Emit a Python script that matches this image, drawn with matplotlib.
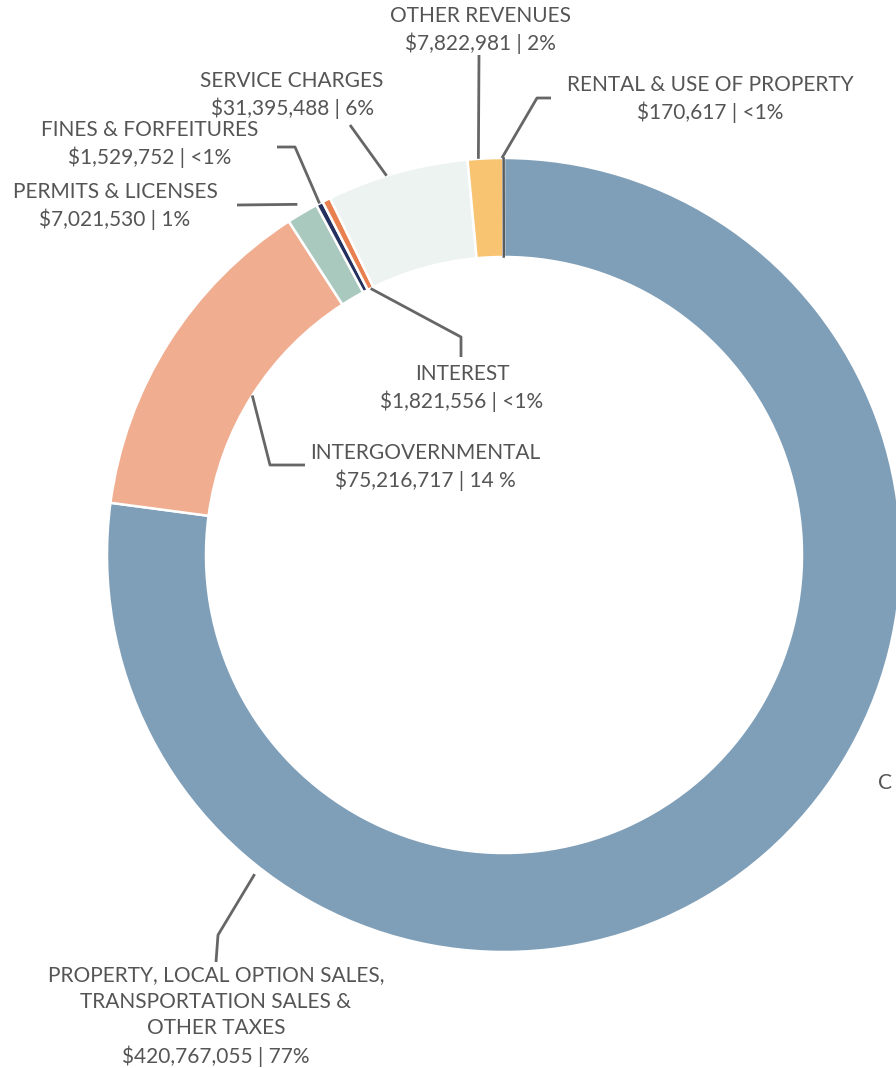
import numpy as np
import matplotlib.pyplot as plt

# revenue categories, clockwise from the top
categories = ['PROPERTY, LOCAL OPTION SALES,\nTRANSPORTATION SALES &\nOTHER TAXES',
              'INTERGOVERNMENTAL', 'PERMITS & LICENSES', 'FINES & FORFEITURES',
              'INTEREST', 'SERVICE CHARGES', 'OTHER REVENUES', 'RENTAL & USE OF PROPERTY']
values = [420767055, 75216717, 7021530, 1529752, 1821556, 31395488, 7822981, 170617]
pct_labels = ['77%', '14 %', '1%', '<1%', '<1%', '6%', '2%', '<1%']
colors = ['#7f9fb9', '#f0ad8f', '#a9c9bf', '#24305e', '#e8804f', '#edf3f1', '#f8c471', '#5c5c5c']

W, H = 896, 1068
CX, CY = 504, 555
R_OUT, R_IN = 397, 298

plt.rcParams['font.family'] = ['Lato', 'DejaVu Sans']
TXT = '#555555'
LINE = '#666666'

fig = plt.figure(figsize=(W / 100, H / 100), dpi=100)
ax = fig.add_axes([0, 0, 1, 1])


def px(x, y):
    return x, H - y


wedges, _ = ax.pie(values, colors=colors, startangle=90, counterclock=False,
                   radius=R_OUT, center=px(CX, CY),
                   wedgeprops=dict(width=R_OUT - R_IN, edgecolor='white', linewidth=1.8))
# tiny rental slice keeps its own colour on the edge so it stays visible
wedges[-1].set_edgecolor(colors[-1])
wedges[-1].set_linewidth(1.2)

# pie() resets the limits, so set them afterwards
ax.set_xlim(0, W)
ax.set_ylim(0, H)
ax.set_aspect('equal')
ax.axis('off')


def anchor(i, r, ang=None):
    if ang is None:
        ang = 0.5 * (wedges[i].theta1 + wedges[i].theta2)
    a = np.deg2rad(ang)
    cx, cy = px(CX, CY)
    return cx + r * np.cos(a), cy + r * np.sin(a)


# label layout: (slice index, anchor radius, anchor angle override, elbow points, text x, text y)
layout = [
    (0, R_OUT + 8, 232, [(218, 935), (216, 962)], 216, 1016),
    (1, R_IN, None, [(270, 465), (305, 465)], 425, 467),
    (2, R_OUT + 10, None, [(237, 205)], 115, 206),
    (3, R_OUT, None, [(295, 147), (277, 147)], 150, 144),
    (4, R_IN, None, [(461, 337), (461, 357)], 462, 388),
    (5, R_OUT, 107.2, [(350, 125)], 292, 95),
    (6, R_OUT, 93.7, [(479, 55)], 480, 30),
    (7, R_OUT, 90.3, [(537, 98), (551, 98)], 710, 99),
]

for i, r, ang, elbows, tx, ty in layout:
    x0, y0 = anchor(i, r, ang)
    pts = [(x0, y0)] + [px(x, y) for x, y in elbows]
    xs, ys = zip(*pts)
    ax.plot(xs, ys, color=LINE, lw=2, solid_capstyle='butt')
    label = categories[i] + '\n' + '${:,} | {}'.format(values[i], pct_labels[i])
    ax.text(*px(tx, ty), label, ha='center', va='center', fontsize=15, color=TXT,
            linespacing=1.4, multialignment='center')

# label of a neighbouring chart, cut off by the right edge
ax.text(*px(878, 783), 'C', ha='left', va='center', fontsize=15, color=TXT)

fig.savefig('out.png', dpi=100)
